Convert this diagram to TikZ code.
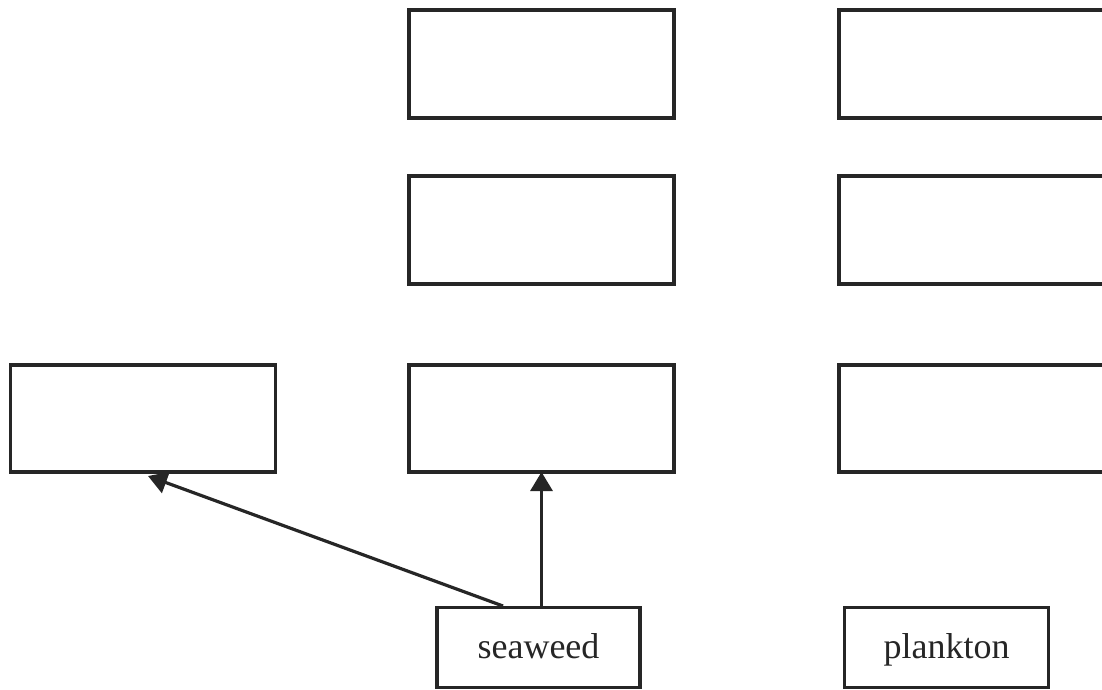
\documentclass[tikz,border=0pt]{standalone}
\usepackage{fontspec}
\setmainfont{Liberation Serif}
\usetikzlibrary{arrows.meta,calc}
\definecolor{ink}{HTML}{262626}
\begin{document}
\begin{tikzpicture}[x=1pt,y=-1pt,
  box/.style={draw=ink,line width=3.5pt,fill=white,minimum width=265pt,minimum height=108pt,inner sep=0pt,outer sep=0pt},
  label/.style={draw=ink,line width=3.5pt,fill=white,minimum width=203pt,minimum height=80pt,inner sep=0pt,outer sep=0pt,
    text height=27pt,text depth=6pt,font=\fontsize{36}{40}\selectfont,text=ink},
  link/.style={draw=ink,line width=3.2pt,-{Triangle[length=19pt,width=22pt]}}]
\useasboundingbox (0,0) rectangle (1102,689);
\node[box] (b1) at (541.5,64) {};
\node[box] (c1) at (971.5,64) {};
\node[box] (b2) at (541.5,230) {};
\node[box] (c2) at (971.5,230) {};
\node[box,minimum height=107pt] (a3) at (142.75,418.5) {};
\node[box,minimum height=107pt] (b3) at (541.5,418.5) {};
\node[box,minimum height=107pt] (c3) at (971.5,418.5) {};
\node[label] (sw) at (538.5,647.5) {seaweed};
\node[label,minimum width=204pt] (pl) at (946.5,647.5) {plankton};
\coordinate (tipA) at (148,476);
\coordinate (startA) at (503,606);
\draw[link] (sw.north -| b3.south) -- (b3.south);
\draw[link] (startA) -- (tipA);
\end{tikzpicture}
\end{document}
